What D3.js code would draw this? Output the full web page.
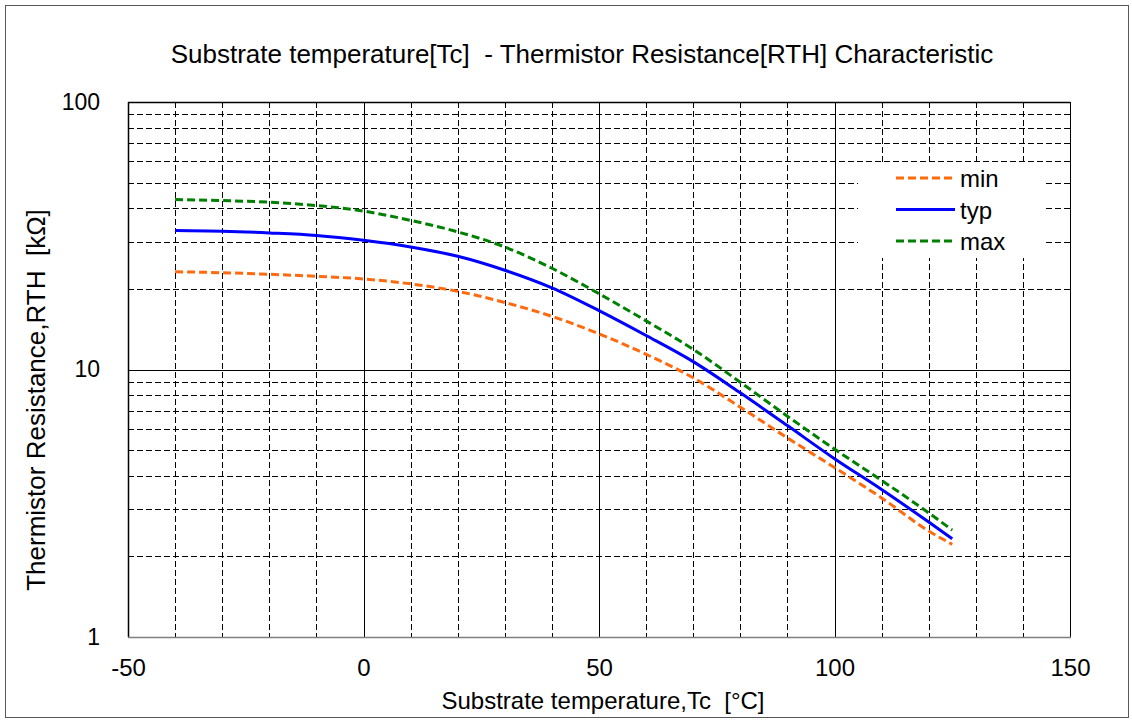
<!DOCTYPE html>
<html><head><meta charset="utf-8">
<script src="https://cdn.jsdelivr.net/npm/d3@7"></script>
<style>
body{margin:0;background:#fff;}
text{font-family:"Liberation Sans",Arial,sans-serif;fill:#000;}
</style></head>
<body><svg id="chart" width="1132" height="720"></svg>
<script>
const temps = [-40,-30,-20,-10,0,10,20,30,40,50,60,70,80,90,100,110,120,125];
const minVals = [23.2,23.0,22.7,22.3,21.8,20.9,19.6,17.8,15.8,13.6,11.4,9.31,7.23,5.55,4.30,3.31,2.49,2.22];
const typVals = [33.1,32.9,32.4,31.7,30.4,28.7,26.5,23.5,20.2,16.6,13.4,10.7,8.18,6.17,4.64,3.56,2.69,2.33];
const maxVals = [43.2,42.8,42.2,41.0,39.1,36.1,32.7,28.7,23.9,19.2,15.2,11.9,8.96,6.69,5.04,3.85,2.91,2.51];
const xTicks = [-50,0,50,100,150];
const yTicks = [1,10,100];
const seriesNames = ["min","typ","max"];
const seriesColors = ["#FF6A0F","#0000FF","#008000"];

const svg = d3.select("#chart");
const L=128, R=1070, T=102, B=637;
const x = d3.scaleLinear().domain([-50,150]).range([L,R]);
const y = d3.scaleLog().domain([1,100]).range([B,T]);

svg.append("rect").attr("x",5.5).attr("y",5.5).attr("width",1123).attr("height",712)
  .attr("fill","#fff").attr("stroke","#595959").attr("stroke-width",1);

// grid
const g = svg.append("g");
const xGrid = d3.range(-40,150,10);
xGrid.forEach(v=>{
  const solid = v%50===0;
  g.append("line").attr("x1",Math.round(x(v))+0.5).attr("x2",Math.round(x(v))+0.5)
    .attr("y1",T).attr("y2",B).attr("stroke","#000").attr("stroke-width",1)
    .attr("stroke-dasharray",solid?null:"6,3");
});
const yGrid = [2,3,4,5,6,7,8,9,10,20,30,40,50,60,70,80,90];
yGrid.forEach(v=>{
  const solid = v===10;
  g.append("line").attr("x1",L).attr("x2",R).attr("y1",Math.round(y(v))+0.5).attr("y2",Math.round(y(v))+0.5)
    .attr("stroke","#000").attr("stroke-width",1).attr("stroke-dasharray",solid?null:"6,3");
});
// frame
svg.append("line").attr("x1",L).attr("x2",R).attr("y1",T+0.5).attr("y2",T+0.5).attr("stroke","#000").attr("stroke-width",1.5);
svg.append("line").attr("x1",L+0.5).attr("x2",L+0.5).attr("y1",T).attr("y2",B).attr("stroke","#000").attr("stroke-width",1.5);
svg.append("line").attr("x1",R+0.5).attr("x2",R+0.5).attr("y1",T).attr("y2",B).attr("stroke","#000").attr("stroke-width",1);
svg.append("line").attr("x1",L).attr("x2",R+1).attr("y1",B+0.5).attr("y2",B+0.5).attr("stroke","#808080").attr("stroke-width",1.5);

// axes labels via d3 axes
const xAxis = d3.axisBottom(x).tickValues(xTicks).tickSize(0).tickPadding(22).tickFormat(d=>String(d));
const xa = svg.append("g").attr("transform",`translate(0,${B})`).call(xAxis);
xa.select(".domain").remove();
xa.selectAll("text").attr("font-size",24).attr("font-family","Liberation Sans, Arial, sans-serif").attr("fill","#000");
const yAxis = d3.axisLeft(y).tickValues(yTicks).tickSize(0).tickPadding(28).tickFormat(d=>String(d));
const ya = svg.append("g").attr("transform",`translate(${L},0)`).call(yAxis);
ya.select(".domain").remove();
ya.selectAll("text").attr("font-size",23).attr("font-family","Liberation Sans, Arial, sans-serif").attr("fill","#000");

// lines
const allVals = [minVals,typVals,maxVals];
const line = d3.line().x((d,i)=>x(temps[i])).y(d=>y(d)).curve(d3.curveMonotoneX);
allVals.forEach((vals,k)=>{
  svg.append("path").datum(vals).attr("d",line).attr("fill","none")
    .attr("stroke",seriesColors[k]).attr("stroke-width",3)
    .attr("stroke-dasharray",k===1?null:"8,4");
});

// legend
svg.append("rect").attr("x",858).attr("y",164).attr("width",186).attr("height",94).attr("fill","#fff");
seriesNames.forEach((n,k)=>{
  const ly = 178 + k*31.5;
  svg.append("line").attr("x1",896).attr("x2",955).attr("y1",ly).attr("y2",ly)
    .attr("stroke",seriesColors[k]).attr("stroke-width",3).attr("stroke-dasharray",k===1?null:"8,4");
  svg.append("text").attr("x",960).attr("y",ly+9).attr("font-size",24).text(n);
});

// titles
svg.append("text").attr("x",582).attr("y",63).attr("text-anchor","middle").attr("font-size",26)
  .style("white-space","pre").text("Substrate temperature[Tc]  - Thermistor Resistance[RTH] Characteristic");
svg.append("text").attr("x",603).attr("y",709).attr("text-anchor","middle").attr("font-size",24)
  .style("white-space","pre").text("Substrate temperature,Tc  [°C]");
svg.append("text").attr("transform","translate(45,400) rotate(-90)").attr("text-anchor","middle").attr("font-size",26)
  .style("white-space","pre").text("Thermistor Resistance,RTH  [kΩ]");
</script></body></html>
